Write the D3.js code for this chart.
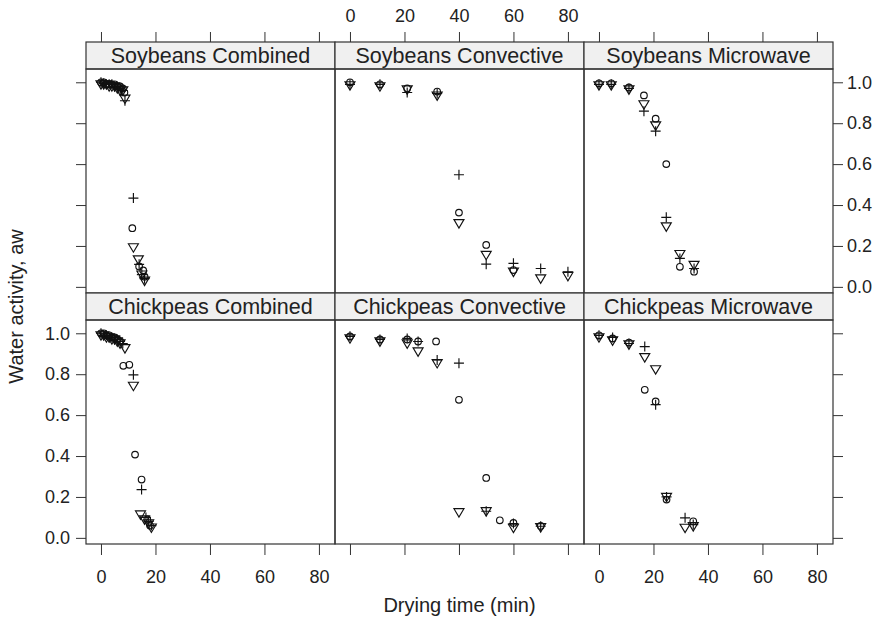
<!DOCTYPE html>
<html>
<head>
<meta charset="utf-8">
<script src="https://cdn.jsdelivr.net/npm/d3@7"></script>
<style>
body { margin: 0; background: #fff; }
text { font-family: "Liberation Sans", Arial, sans-serif; fill: #222; }
</style>
</head>
<body>
<svg id="chart" width="886" height="626"></svg>
<script>
// panel titles, row by row
var panelNames = [
    ["Soybeans Combined", "Soybeans Convective", "Soybeans Microwave"],
    ["Chickpeas Combined", "Chickpeas Convective", "Chickpeas Microwave"]
];
var xTicks = [0, 20, 40, 60, 80];
var yTicks = [0, 0.2, 0.4, 0.6, 0.8, 1.0];

// [drying time (min), water activity] for each symbol
var soyCombined = {
    circle:   [[0,1.0],[1,1.0],[2,0.99],[3,0.99],[4,0.99],[5,0.99],[6,0.98],[7,0.98],[8,0.97],[8.6,0.95],[11.5,0.287],[14,0.10],[15.5,0.08],[16,0.05]],
    plus:     [[0,1.0],[1,0.995],[2,0.99],[3,0.99],[4,0.99],[5,0.98],[6,0.98],[7,0.97],[8,0.96],[8.8,0.91],[11.9,0.434],[14,0.11],[15,0.06],[16,0.04]],
    triangle: [[0,0.99],[1,0.99],[2,0.99],[3,0.98],[4,0.98],[5,0.98],[6,0.97],[7,0.96],[8,0.96],[8.8,0.92],[11.9,0.193],[13.7,0.134],[15,0.06],[16,0.03]]
};
var soyConvective = {
    circle:   [[0,1.0],[11,0.99],[21,0.97],[32,0.955],[40,0.363],[50,0.205],[60,0.082]],
    plus:     [[0,0.99],[11,0.99],[21,0.95],[32,0.945],[40,0.548],[50,0.111],[60,0.115],[70,0.09],[80,0.074]],
    triangle: [[0,0.985],[11,0.98],[21,0.965],[32,0.935],[40,0.311],[50,0.156],[60,0.074],[70,0.041],[80,0.053]]
};
var soyMicrowave = {
    circle:   [[0,0.995],[4.5,0.995],[11,0.975],[16.5,0.936],[20.8,0.822],[24.7,0.60],[29.7,0.098],[34.9,0.074]],
    plus:     [[0,0.99],[4.5,0.99],[11,0.97],[16.5,0.859],[20.8,0.761],[24.7,0.34],[29.7,0.139],[34.9,0.09]],
    triangle: [[0,0.985],[4.5,0.985],[11,0.965],[16.5,0.892],[20.8,0.789],[24.7,0.295],[29.7,0.16],[34.9,0.107]]
};
var chickCombined = {
    circle:   [[0,1.0],[1,1.0],[2,0.99],[3,0.99],[4,0.98],[5,0.98],[6,0.97],[7,0.96],[8.2,0.841],[10.4,0.846],[12.5,0.407],[14.9,0.285],[17,0.09],[18,0.06]],
    plus:     [[0,1.0],[1,0.99],[2,0.99],[3,0.98],[4,0.98],[5,0.97],[6,0.97],[7,0.96],[8,0.95],[11.9,0.797],[14.9,0.236],[16.5,0.10],[17.5,0.08],[18.5,0.06]],
    triangle: [[0,0.99],[1,0.99],[2,0.98],[3,0.98],[4,0.97],[5,0.97],[6,0.96],[7,0.95],[8.8,0.927],[11.9,0.743],[14.5,0.114],[16,0.09],[17.5,0.07],[18.5,0.05]]
};
var chickConvective = {
    circle:   [[0,0.985],[11,0.97],[21,0.97],[25,0.96],[31.6,0.96],[40,0.675],[50,0.293],[55,0.086],[60,0.073],[70,0.058]],
    plus:     [[0,0.985],[11,0.97],[21,0.975],[25,0.96],[32,0.87],[40,0.854],[50,0.13],[60,0.07],[70,0.057]],
    triangle: [[0,0.975],[11,0.96],[21,0.95],[25,0.911],[32,0.854],[40,0.125],[50,0.13],[60,0.049],[70,0.052]]
};
var chickMicrowave = {
    circle:   [[0,0.99],[5,0.975],[11,0.955],[16.8,0.724],[20.8,0.667],[24.8,0.187],[34.6,0.081]],
    plus:     [[0,0.99],[5,0.98],[11,0.95],[16.8,0.935],[20.8,0.651],[24.8,0.2],[31.6,0.098],[34.6,0.065]],
    triangle: [[0,0.98],[5,0.965],[11,0.945],[16.8,0.883],[20.8,0.824],[24.8,0.2],[31.6,0.049],[34.6,0.057]]
};
var panelData = [
    [soyCombined, soyConvective, soyMicrowave],
    [chickCombined, chickConvective, chickMicrowave]
];

var svg = d3.select("#chart");
var colLeft = [86, 335, 584], panelW = 249;
var rowTop = [69, 320], panelH = 224, stripH = 27;
var ink = "#333";

// symbol shapes, centred on the point
var shapes = {
    circle: "M3.3,0A3.3,3.3 0 1,1 -3.3,0A3.3,3.3 0 1,1 3.3,0Z",
    plus: "M-5,0H5M0,-5V5",
    triangle: "M-5,-3.6H5L0,4.8Z"
};

function xScaleFor(col) {
    return d3.scaleLinear().domain([-5.5, 85.9]).range([colLeft[col], colLeft[col] + panelW]);
}
function yScaleFor(row) {
    return d3.scaleLinear().domain([-0.03, 1.065]).range([rowTop[row] + panelH, rowTop[row]]);
}

function styleAxis(g) {
    g.select(".domain").remove();
    g.selectAll(".tick line").attr("stroke", ink);
    g.selectAll(".tick text").style("font-size", "18px").attr("fill", "#222");
}

panelNames.forEach(function (names, row) {
    var y = yScaleFor(row);
    names.forEach(function (name, col) {
        var x = xScaleFor(col);
        var top = rowTop[row];

        // strip
        svg.append("rect")
            .attr("x", colLeft[col]).attr("y", top - stripH)
            .attr("width", panelW).attr("height", stripH)
            .attr("fill", "#f0f0f0").attr("stroke", ink).attr("stroke-width", 1.2);
        svg.append("text")
            .attr("x", colLeft[col] + panelW / 2).attr("y", top - stripH / 2 + 7.5)
            .attr("text-anchor", "middle")
            .style("font-size", "21.5px")
            .text(name);

        // points
        var series = panelData[row][col];
        ["circle", "plus", "triangle"].forEach(function (key) {
            svg.append("g").selectAll("path")
                .data(series[key])
                .enter().append("path")
                .attr("d", shapes[key])
                .attr("transform", function (d) { return "translate(" + x(d[0]) + "," + y(d[1]) + ")"; })
                .attr("fill", "none")
                .attr("stroke", "#111")
                .attr("stroke-width", 1.15);
        });

        // frame
        svg.append("rect")
            .attr("x", colLeft[col]).attr("y", top)
            .attr("width", panelW).attr("height", panelH)
            .attr("fill", "none").attr("stroke", ink).attr("stroke-width", 1.2);

        // x axes: ticks on top of strips (labels only in middle), bottom row ticks
        if (row == 0) {
            var topAxis = d3.axisTop(x).tickValues(xTicks).tickSize(10).tickPadding(10).tickSizeOuter(0);
            if (col != 1) topAxis.tickFormat("");
            svg.append("g").attr("transform", "translate(0," + (top - stripH) + ")").call(topAxis).call(styleAxis);
        } else {
            var bottomAxis = d3.axisBottom(x).tickValues(xTicks).tickSize(11).tickPadding(15).tickSizeOuter(0);
            if (col == 1) bottomAxis.tickFormat("");
            svg.append("g").attr("transform", "translate(0," + (top + panelH) + ")").call(bottomAxis).call(styleAxis);
        }
    });

    // y axes: left labels on bottom row, right labels on top row
    var leftAxis = d3.axisLeft(y).tickValues(yTicks).tickSize(10).tickPadding(6).tickSizeOuter(0).tickFormat(d3.format(".1f"));
    if (row == 0) leftAxis.tickFormat("");
    svg.append("g").attr("transform", "translate(" + colLeft[0] + ",0)").call(leftAxis).call(styleAxis);

    var rightAxis = d3.axisRight(y).tickValues(yTicks).tickSize(10).tickPadding(4).tickSizeOuter(0).tickFormat(d3.format(".1f"));
    if (row == 1) rightAxis.tickFormat("");
    svg.append("g").attr("transform", "translate(" + (colLeft[2] + panelW) + ",0)").call(rightAxis).call(styleAxis);
});

// axis titles
svg.append("text")
    .attr("x", colLeft[0] + 1.5 * panelW).attr("y", 612)
    .attr("text-anchor", "middle")
    .style("font-size", "20px")
    .text("Drying time (min)");

svg.append("text")
    .attr("transform", "translate(23," + ((rowTop[0] + rowTop[1] + panelH) / 2) + ") rotate(-90)")
    .attr("text-anchor", "middle")
    .style("font-size", "20px")
    .text("Water activity, aw");
</script>
</body>
</html>
